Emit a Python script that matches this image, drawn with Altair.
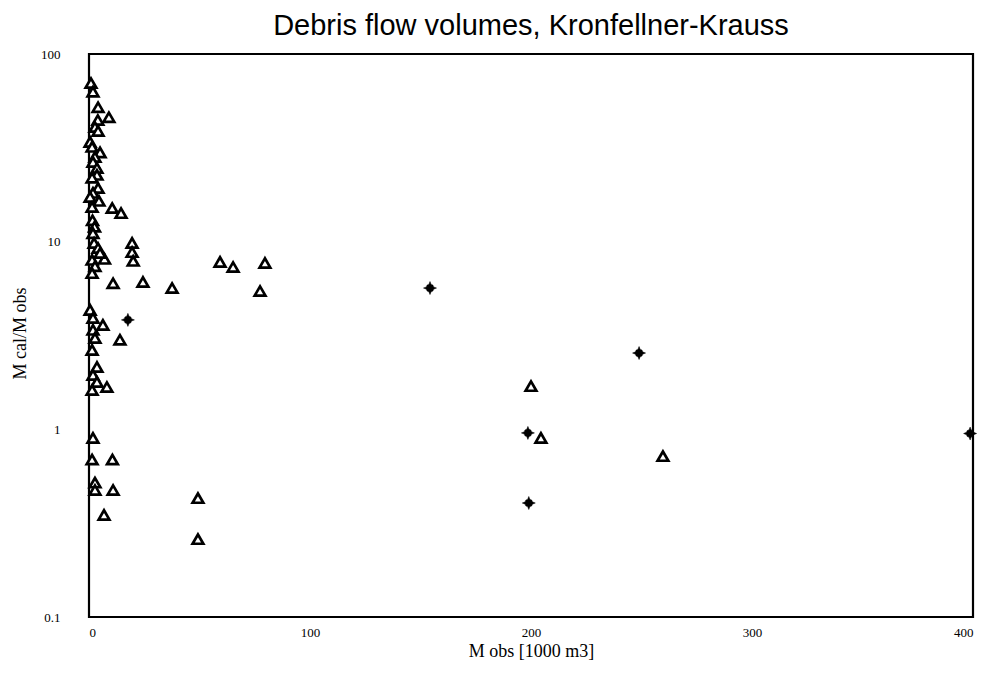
import altair as alt
import pandas as pd

# Triangles (open markers)
tri_x = [0.9, 1.8, 4.1, 9.0, 4.0, 2.7, 4.1, 0.5, 1.4, 5.0, 2.7, 1.8, 3.6, 3.6, 1.4,
         4.1, 1.8, 0.5, 4.5, 1.4, 1.6, 2.5, 1.8, 2.3, 4.1, 7.0, 1.4, 2.7, 1.4, 5.0,
         0.5, 1.8, 1.8, 2.7, 1.4, 3.6, 1.8, 3.6, 1.4, 8.1, 6.3, 14.0,
         1.8, 1.4, 2.7, 2.7, 10.6, 10.9, 6.8, 49.3, 49.3,
         10.5, 14.5, 19.5, 19.5, 20.0, 10.9, 24.4, 37.6, 59.3, 65.2, 79.6, 77.4,
         200.0, 204.5, 259.7]
tri_y = [70, 63, 52, 46, 44.5, 40.8, 38.9, 34, 32, 29.9, 28.3, 26.6, 24.7, 22.7, 21.9,
         19.3, 18.2, 17.3, 16.5, 15.3, 13.0, 12.0, 11.1, 9.85, 9.25, 8.1, 8.0, 7.4, 6.8, 8.7,
         4.33, 3.92, 3.39, 3.07, 2.65, 2.15, 1.95, 1.79, 1.62, 1.68, 3.6, 3.0,
         0.90, 0.69, 0.52, 0.475, 0.69, 0.475, 0.35, 0.43, 0.26,
         15.1, 14.2, 9.85, 8.8, 7.9, 6.0, 6.1, 5.66, 7.8, 7.33, 7.7, 5.46,
         1.7, 0.9, 0.72]

# Stars (filled markers)
star_x = [17.6, 154.3, 248.9, 198.6, 199.0, 398.7]
star_y = [3.83, 5.66, 2.55, 0.957, 0.405, 0.95]

x_ticks = [0, 100, 200, 300, 400]
y_ticks = [0.1, 1, 10, 100]

tri_df = pd.DataFrame({"x": tri_x, "y": tri_y})
star_df = pd.DataFrame({"x": star_x, "y": star_y})

xs = alt.Scale(domain=[0, 400], nice=False, zero=False)
ys = alt.Scale(type="log", domain=[0.1, 100], nice=False)

x_enc = alt.X("x:Q", scale=xs, axis=alt.Axis(
    values=x_ticks, format="d", title="M obs [1000 m3]", grid=False, domain=False,
    ticks=False, labelPadding=9, labelFont="Liberation Serif", labelFontSize=13,
    labelColor="black", titleFont="Liberation Serif", titleFontSize=18,
    titleFontWeight="normal", titleColor="black", titleBaseline="middle", titleY=34))
y_enc = alt.Y("y:Q", scale=ys, axis=alt.Axis(
    values=y_ticks, format="~g", title="M cal/M obs", grid=False, domain=False,
    ticks=False, labelPadding=29, labelFont="Liberation Serif", labelFontSize=13,
    labelColor="black", titleFont="Liberation Serif", titleFontSize=18,
    titleFontWeight="normal", titleColor="black", titleAngle=-90,
    titleBaseline="middle", titleAlign="center", titleX=-69, titleY=279))

tri = alt.Chart(tri_df).mark_point(
    shape="triangle-up", filled=True, fill="white", stroke="black",
    strokeWidth=2.7, size=115, opacity=1
).encode(x=x_enc, y=y_enc)

star_path = ("M0,-1L0.18,-0.55L0.45,-0.45L0.55,-0.18L1,0L0.55,0.18L0.45,0.45L0.18,0.55"
             "L0,1L-0.18,0.55L-0.45,0.45L-0.55,0.18L-1,0L-0.55,-0.18L-0.45,-0.45L-0.18,-0.55Z")
star = alt.Chart(star_df).mark_point(
    shape=star_path, filled=True, fill="black", stroke="black", strokeWidth=0.5,
    size=170, opacity=1
).encode(x=x_enc, y=y_enc)

chart = alt.layer(tri, star).properties(
    width=884, height=563,
    background="white",
    title=alt.TitleParams("Debris flow volumes, Kronfellner-Krauss",
                          font="Liberation Sans", fontSize=29, fontWeight="normal",
                          color="black", anchor="middle", offset=7),
    autosize=alt.AutoSizeParams(type="none"),
    padding={"left": 81, "top": 46, "right": 9, "bottom": 57},
).configure_view(stroke="black", strokeWidth=2.2)

chart.save("out.html", embed_options={"renderer": "svg", "actions": False})
